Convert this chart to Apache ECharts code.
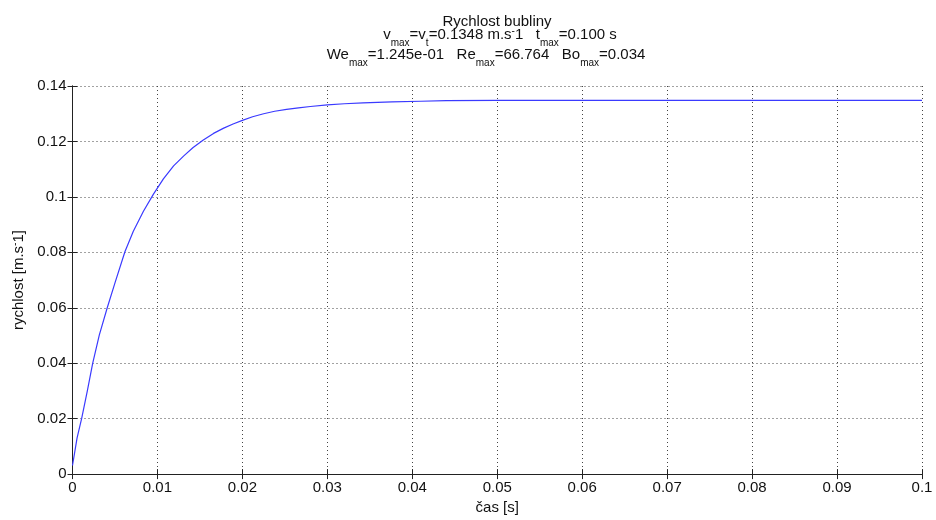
<!DOCTYPE html>
<html><head><meta charset="utf-8">
<script src="https://cdn.jsdelivr.net/npm/echarts@6/dist/echarts.min.js"></script>
<style>html,body{margin:0;padding:0;background:#fff}#c{width:936px;height:520px}</style>
</head><body><div id="c"></div><script>
// time [s]
const timeS = [0, 0.00054, 0.00108, 0.00174, 0.00238, 0.00316, 0.00409, 0.005, 0.00618, 0.00716, 0.00835, 0.00953,
  0.0107, 0.0119, 0.0131, 0.0142, 0.0154, 0.0166, 0.0178, 0.0189, 0.0200, 0.0212, 0.0225, 0.0238, 0.0252, 0.0266,
  0.0280, 0.0300, 0.0320, 0.0342, 0.0376, 0.0410, 0.0440, 0.05, 0.06, 0.07, 0.08, 0.09, 0.1];
// velocity [m/s]
const velocity = [0.0031, 0.0131, 0.0201, 0.0299, 0.0400, 0.0502, 0.0600, 0.0690, 0.0803, 0.0876, 0.0948, 0.1010,
  0.1065, 0.1112, 0.1148, 0.1178, 0.1205, 0.1229, 0.1248, 0.1263, 0.1276, 0.1289, 0.1300, 0.1309, 0.1316, 0.1321,
  0.1326, 0.1332, 0.1336, 0.1339, 0.1343, 0.1345, 0.1347, 0.1348, 0.1348, 0.1348, 0.1348, 0.1348, 0.1348];
const xTickLabels = ['0','0.01','0.02','0.03','0.04','0.05','0.06','0.07','0.08','0.09','0.1'];
const yTickLabels = ['0','0.02','0.04','0.06','0.08','0.1','0.12','0.14'];
const titleLine1 = 'Rychlost bubliny';
const titleLine2 = '{n|v}{s|max}{n|=v}{s|t}{n|=0.1348 m.s}{p|-}{n|1   t}{s|max}{n|=0.100 s}';
const titleLine3 = '{n|We}{s|max}{n|=1.245e-01   Re}{s|max}{n|=66.764   Bo}{s|max}{n|=0.034}';
const xName = 'čas [s]';
const yName = '{n|rychlost [m.s}{p|-}{n|1]}';

const FF = '"Liberation Sans", Arial, Helvetica, sans-serif';
const rich = {
  n: {fontSize: 15, fontFamily: FF, color: '#111'},
  s: {fontSize: 10, fontFamily: FF, color: '#111', padding: [16, 0, 0, 0]},
  p: {fontSize: 10, fontFamily: FF, color: '#111', padding: [0, 0, 8, 0]}
};
const chart = echarts.init(document.getElementById('c'), null, {renderer: 'canvas'});
const data = timeS.map((t, i) => [t, velocity[i]]);
const axisLine = {show: true, lineStyle: {color: '#222', width: 1}};
const split = {show: true, lineStyle: {color: '#444', width: 1, type: [1, 3]}};
chart.setOption({
  animation: false,
  backgroundColor: '#fff',
  title: [
    {text: titleLine1, left: 497, top: 14, textAlign: 'center', padding: 0,
     textStyle: {fontSize: 15, fontFamily: FF, fontWeight: 'normal', color: '#111'}},
    {text: titleLine2, left: 500, top: 22, textAlign: 'center', padding: 0,
     textStyle: {fontSize: 15, fontFamily: FF, fontWeight: 'normal', color: '#111', rich: rich}},
    {text: titleLine3, left: 486, top: 42, textAlign: 'center', padding: 0,
     textStyle: {fontSize: 15, fontFamily: FF, fontWeight: 'normal', color: '#111', rich: rich}}
  ],
  grid: {left: 72.5, right: 14, top: 86, bottom: 43, containLabel: false},
  xAxis: [
    {type: 'value', min: 0, max: 0.1, interval: 0.01, position: 'bottom',
     axisLine: axisLine, axisTick: {show: true, inside: true, length: 5, lineStyle: {color: '#222'}},
     axisLabel: {margin: 6, fontSize: 15, fontFamily: FF, color: '#111',
       formatter: v => xTickLabels[Math.round(v / 0.01)]},
     splitLine: split,
     name: xName, nameLocation: 'middle', nameGap: 23,
     nameTextStyle: {fontSize: 15, fontFamily: FF, color: '#111'}},
    {type: 'value', min: 0, max: 0.1, interval: 0.01, position: 'top',
     axisLine: axisLine, axisTick: {show: true, inside: true, length: 5, lineStyle: {color: '#222'}},
     axisLabel: {show: false}, splitLine: {show: false}}
  ],
  yAxis: [
    {type: 'value', min: 0, max: 0.14, interval: 0.02, position: 'left',
     axisLine: axisLine, axisTick: {show: true, inside: true, length: 5, lineStyle: {color: '#222'}},
     axisLabel: {margin: 6, fontSize: 15, fontFamily: FF, color: '#111',
       formatter: v => yTickLabels[Math.round(v / 0.02)]},
     splitLine: split,
     name: yName, nameLocation: 'middle', nameGap: 41,
     nameTextStyle: {fontSize: 15, fontFamily: FF, color: '#111', rich: rich}},
    {type: 'value', min: 0, max: 0.14, interval: 0.02, position: 'right',
     axisLine: axisLine, axisTick: {show: true, inside: true, length: 5, lineStyle: {color: '#222'}},
     axisLabel: {show: false}, splitLine: {show: false}}
  ],
  series: [{
    type: 'line', data: data, xAxisIndex: 0, yAxisIndex: 0,
    showSymbol: false, smooth: false,
    lineStyle: {color: '#3a3aff', width: 1.2}
  }]
});
</script></body></html>
